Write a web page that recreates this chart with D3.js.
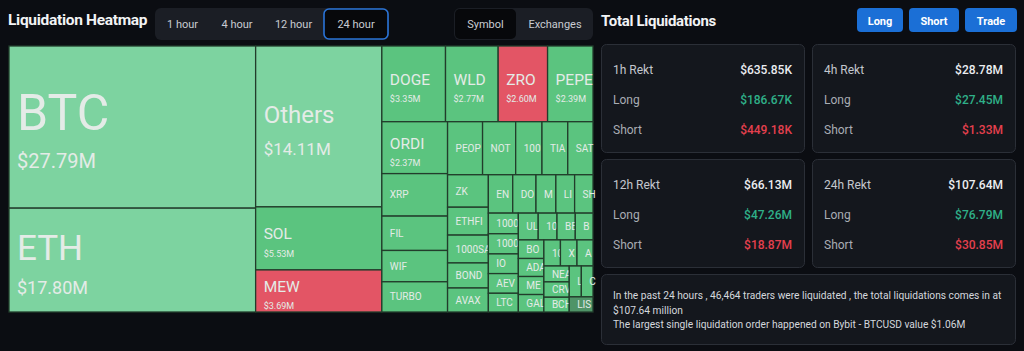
<!DOCTYPE html>
<html>
<head>
<meta charset="utf-8">
<script src="https://cdn.jsdelivr.net/npm/d3@7"></script>
<style>
  html, body { margin: 0; padding: 0; background: #0b0d12; }
  svg { display: block; font-family: Roboto, "Noto Sans", sans-serif; }
</style>
</head>
<body>
<div id="chart"></div>
<script>
// liquidation heatmap + totals panel

// treemap data, values in $M over the last 24h
const symbols = [
  "BTC", "ETH", "Others", "SOL", "MEW", "DOGE", "WLD", "ZRO", "PEPE", "ORDI",
  "XRP", "FIL", "WIF", "TURBO",
  "PEOPLE", "NOT", "1000PEPE", "TIA", "SATS",
  "ZK", "ETHFI", "1000SATS", "BOND", "AVAX",
  "ENA", "DOT", "MATIC", "LINK", "SHIB",
  "1000FLOKI", "1000SHIB", "IO", "AEVO", "LTC",
  "ULTI", "1000BONK", "BEAMX", "BNB",
  "BOME", "ADA", "MEME", "GALA",
  "1000LUNC", "XAI", "AR",
  "NEAR", "CRV", "BCH",
  "LDO", "CKB", "LISTA"
];
const liquidations = [
  27.79, 17.80, 14.11, 5.53, 3.69, 3.35, 2.77, 2.60, 2.39, 2.37,
  1.94, 1.57, 1.43, 1.38,
  1.29, 1.22, 0.97, 0.95, 0.93,
  0.92, 0.79, 0.79, 0.71, 0.68,
  0.65, 0.62, 0.53, 0.50, 0.49,
  0.43, 0.42, 0.41, 0.41, 0.39,
  0.37, 0.35, 0.34, 0.33,
  0.33, 0.32, 0.32, 0.31,
  0.30, 0.30, 0.29,
  0.28, 0.27, 0.26,
  0.26, 0.25, 0.25
];
const dominantSide = [
  "long", "long", "long", "long", "short", "long", "long", "short", "long", "long",
  "long", "long", "long", "long",
  "long", "long", "long", "long", "long",
  "long", "long", "long", "long", "long",
  "long", "long", "long", "long", "long",
  "long", "long", "long", "long", "long",
  "long", "long", "long", "long",
  "long", "long", "long", "long",
  "long", "long", "long",
  "long", "long", "long",
  "long", "long", "neutral"
];

const timeTabs = ["1 hour", "4 hour", "12 hour", "24 hour"];
const activeTimeTab = "24 hour";
const viewTabs = ["Symbol", "Exchanges"];
const activeViewTab = "Symbol";
const actionButtons = ["Long", "Short", "Trade"];

const periods = ["1h", "4h", "12h", "24h"];
const rektTotal = ["$635.85K", "$28.78M", "$66.13M", "$107.64M"];
const rektLong = ["$186.67K", "$27.45M", "$47.26M", "$76.79M"];
const rektShort = ["$449.18K", "$1.33M", "$18.87M", "$30.85M"];

const summaryLines = [
  "In the past 24 hours , 46,464 traders were liquidated , the total liquidations comes in at",
  "$107.64 million",
  "The largest single liquidation order happened on Bybit - BTCUSD value $1.06M"
];

const W = 1024, H = 351;
const svg = d3.select("#chart").append("svg")
  .attr("width", W).attr("height", H);

svg.append("rect").attr("width", W).attr("height", H).attr("fill", "#0b0d12");

// ---------- left header ----------
svg.append("text")
  .attr("x", 8).attr("y", 25)
  .attr("fill", "#f2f3f5")
  .attr("font-size", 15.5).attr("font-weight", 700)
  .attr("letter-spacing", -0.3)
  .text("Liquidation Heatmap");

function tabGroup(x0, x1, labels, active, widths) {
  const g = svg.append("g");
  g.append("rect")
    .attr("x", x0).attr("y", 8).attr("width", x1 - x0).attr("height", 32)
    .attr("rx", 6).attr("fill", "#1b1e25");
  let x = x0;
  labels.forEach((lab, i) => {
    const w = widths[i];
    if (lab === active) {
      g.append("rect")
        .attr("x", x + 1).attr("y", 9).attr("width", w - 2).attr("height", 30)
        .attr("rx", 5).attr("fill", "#07080b")
        .attr("stroke", lab === activeTimeTab ? "#2a74d8" : "none")
        .attr("stroke-width", 1.6);
    }
    g.append("text")
      .attr("x", x + w / 2).attr("y", 28)
      .attr("text-anchor", "middle")
      .attr("fill", "#c9ccd2").attr("font-size", 11)
      .text(lab);
    x += w;
  });
}
tabGroup(155, 389, timeTabs, activeTimeTab, [55, 54, 59, 66]);
tabGroup(454, 593, viewTabs, activeViewTab, [63, 76]);

// ---------- treemap ----------
const tm = { x: 9, y: 46, w: 584, h: 266 };

const root = d3.hierarchy({
  children: symbols.map((s, i) => ({ name: s, value: liquidations[i], side: dominantSide[i] }))
})
  .sum(d => d.value || 0)
  .sort((a, b) => b.value - a.value);

d3.treemap()
  .tile(d3.treemapSquarify)
  .size([tm.w, tm.h])
  .round(false)(root);

const tileColor = d => {
  if (d.data.side === "short") return "#e35565";
  if (d.data.side === "neutral") return "#4f9468";
  return d.value >= 10 ? "#7dd3a0" : "#5bc47f";
};
const nameSize = d3.scaleThreshold().domain([2, 10, 15, 20]).range([10, 15.5, 24, 35, 50]);
const valueSize = d3.scaleThreshold().domain([2, 10, 15, 20]).range([0, 9, 17, 18, 20]);
const fmt = v => "$" + d3.format(".2f")(v) + "M";

const tg = svg.append("g").attr("transform", `translate(${tm.x},${tm.y})`);

const leaves = tg.selectAll("g.tile")
  .data(root.leaves())
  .join("g")
  .attr("class", "tile")
  .attr("transform", d => `translate(${d.x0},${d.y0})`);

leaves.append("rect")
  .attr("width", d => d.x1 - d.x0)
  .attr("height", d => d.y1 - d.y0)
  .attr("fill", tileColor)
  .attr("stroke", "#223c2b")
  .attr("stroke-width", 1.3);

// cut a label down until it fits in its tile
function fitText(sel, maxW) {
  const node = sel.node();
  let t = sel.text();
  while (t.length > 1 && node.getComputedTextLength() > maxW) {
    t = t.slice(0, -1);
    sel.text(t);
  }
}

leaves.each(function (d) {
  const g = d3.select(this);
  const w = d.x1 - d.x0, h = d.y1 - d.y0;
  const nf = nameSize(d.value), vf = valueSize(d.value);
  const cy = h / 2;
  if (vf > 0) {
    const gap = vf * 1.9;
    const block = nf * 0.72 + gap;
    const base = cy + 4 - block / 2 + nf * 0.72;
    const t1 = g.append("text")
      .attr("x", 8).attr("y", base)
      .attr("fill", "#e4ebe7").attr("font-size", nf)
      .text(d.data.name);
    fitText(t1, w - 6);
    g.append("text")
      .attr("x", 8).attr("y", base + gap)
      .attr("fill", "#e4ebe7").attr("font-size", vf)
      .text(fmt(d.value));
  } else {
    const t = g.append("text")
      .attr("x", 8).attr("y", cy + nf * 0.36)
      .attr("fill", "#e4ebe7").attr("font-size", nf)
      .text(d.data.name);
    fitText(t, w - 5);
  }
});

// ---------- right panel ----------
svg.append("text")
  .attr("x", 601).attr("y", 26)
  .attr("fill", "#f2f3f5")
  .attr("font-size", 15).attr("font-weight", 700)
  .attr("letter-spacing", -0.3)
  .text("Total Liquidations");

const btnX = [857, 909, 965], btnW = [46, 50, 52];
actionButtons.forEach((b, i) => {
  svg.append("rect")
    .attr("x", btnX[i]).attr("y", 8).attr("width", btnW[i]).attr("height", 24)
    .attr("rx", 4).attr("fill", "#1b6fd6");
  svg.append("text")
    .attr("x", btnX[i] + btnW[i] / 2).attr("y", 24.5)
    .attr("text-anchor", "middle")
    .attr("fill", "#ffffff").attr("font-size", 11).attr("font-weight", 700)
    .text(b);
});

const cardPos = [
  { x: 601, y: 44 }, { x: 812, y: 44 },
  { x: 601, y: 159 }, { x: 812, y: 159 }
];
periods.forEach((p, i) => {
  const c = cardPos[i];
  const g = svg.append("g").attr("transform", `translate(${c.x},${c.y})`);
  g.append("rect")
    .attr("x", 0.5).attr("y", 0.5).attr("width", 203).attr("height", 108)
    .attr("rx", 5).attr("fill", "#14171d").attr("stroke", "#2b2f37");
  const rows = [
    [p + " Rekt", rektTotal[i], "#eceef1"],
    ["Long", rektLong[i], "#2fb088"],
    ["Short", rektShort[i], "#e5404e"]
  ];
  rows.forEach((r, j) => {
    const y = 30 + j * 30;
    g.append("text").attr("x", 12).attr("y", y)
      .attr("fill", j === 0 ? "#c4c7cd" : "#a9adb4").attr("font-size", 12)
      .text(r[0]);
    g.append("text").attr("x", 191).attr("y", y)
      .attr("text-anchor", "end")
      .attr("fill", r[2]).attr("font-size", 12).attr("font-weight", 500)
      .text(r[1]);
  });
});

svg.append("rect")
  .attr("x", 601.5).attr("y", 274.5).attr("width", 414).attr("height", 70)
  .attr("rx", 5).attr("fill", "#14171d").attr("stroke", "#2b2f37");
summaryLines.forEach((t, i) => {
  svg.append("text")
    .attr("x", 613).attr("y", 299 + i * 14.5)
    .attr("fill", "#d5d8dd").attr("font-size", 10.2)
    .text(t);
});
</script>
</body>
</html>
